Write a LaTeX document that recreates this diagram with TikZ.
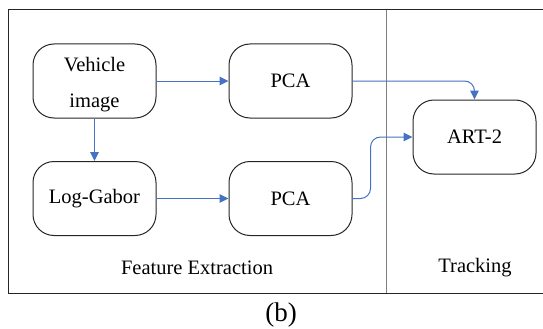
\documentclass[tikz,border=0pt]{standalone}
\usepackage{fontspec}
\setmainfont{Liberation Serif}
\usetikzlibrary{arrows.meta}
\definecolor{flowblue}{HTML}{4472C4}
\definecolor{boxline}{HTML}{262626}
\definecolor{divline}{HTML}{7F7F7F}
\begin{document}
\begin{tikzpicture}[x=1pt,y=-1pt,
  stage/.style={draw=boxline, line width=1pt, rounded corners=21pt,
    minimum width=123pt, minimum height=74pt, align=center,
    font=\fontsize{20.5}{36}\selectfont, text=black, inner sep=0pt},
  flow/.style={draw=flowblue, line width=1pt,
    -{Triangle[length=9pt,width=8.5pt]}},
  caption/.style={font=\fontsize{20.5}{24}\selectfont, text=black}]
\useasboundingbox (0,0) rectangle (543,329);

% frame with the two sections
\draw[boxline, line width=1pt] (543,10) -- (8,10) -- (8,293) -- (543,293);
\draw[divline, line width=1pt] (386,10) -- (386,293);

% processing stages
\node[stage] (veh)  at (94.5,81)    {};
\node[font=\fontsize{20.5}{36}\selectfont, align=center] (vehtxt) at (94.5,85) {Vehicle\\image};
\node[stage] (pca1) at (290.5,81)   {PCA};
\node[stage] (gab)  at (94.5,198.5) {Log-Gabor};
\node[stage] (pca2) at (290.5,198.5){PCA};
\node[stage] (art)  at (474.5,137)  {ART-2};

% data flow
\draw[flow] (veh) -- (pca1);
\draw[flow] (veh) -- (gab);
\draw[flow] (gab) -- (pca2);
\draw[flow, rounded corners=10pt] (pca1.east) -| (art.north);
\draw[flow, rounded corners=10pt] (pca2.east) -- ++(18,0) |- (art.west);

% section titles and caption
\node[caption] (fe) at (197,268) {Feature Extraction};
\node[caption] (tr) at (475,268) {Tracking};
\node[font=\fontsize{27}{30}\selectfont] (cap) at (281,315) {(b)};
\end{tikzpicture}
\end{document}
